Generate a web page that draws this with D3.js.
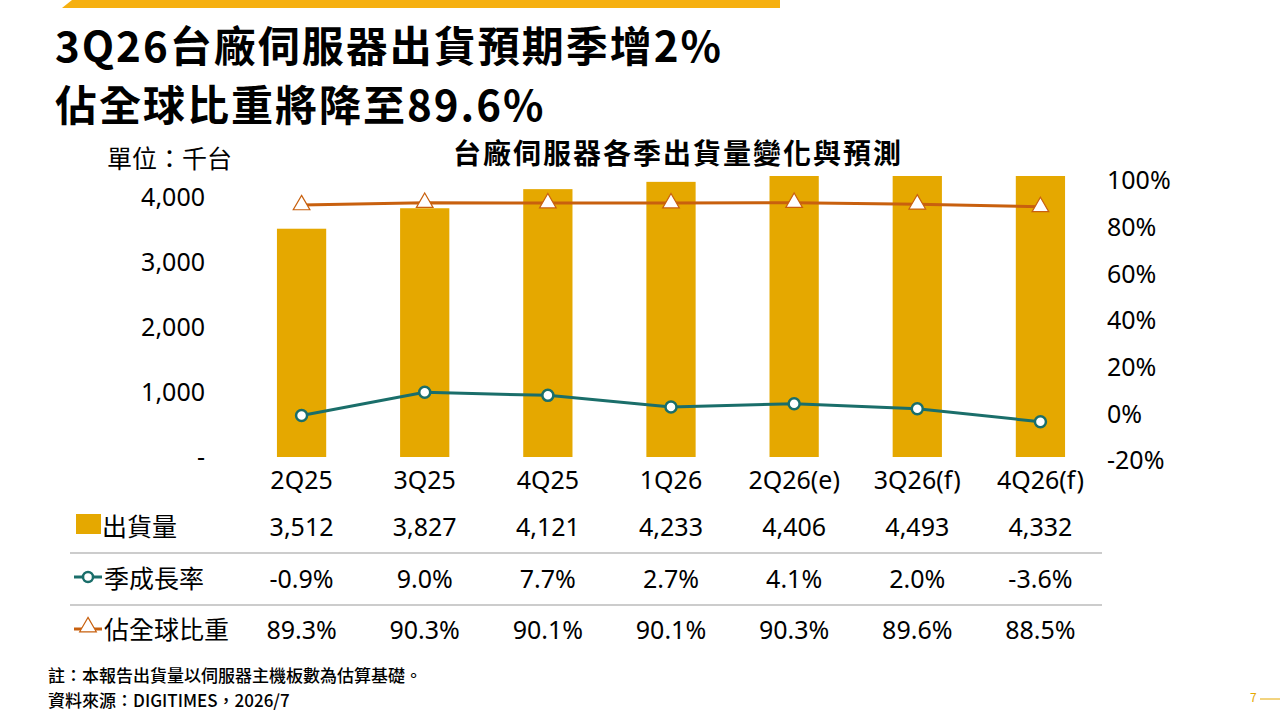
<!DOCTYPE html>
<html><head><meta charset="utf-8">
<script src="https://cdn.jsdelivr.net/npm/d3@7"></script>
<style>body{margin:0;background:#fff}text{font-family:"Noto Sans CJK TC","Noto Sans",sans-serif}</style>
</head><body><svg id="c" width="1280" height="720"></svg>
<script>
const categories=["2Q25","3Q25","4Q25","1Q26","2Q26(e)","3Q26(f)","4Q26(f)"];
const shipments=[3512,3827,4121,4233,4406,4493,4332];
const growth=[-0.9,9.0,7.7,2.7,4.1,2.0,-3.6];
const share=[89.3,90.3,90.1,90.1,90.3,89.6,88.5];
const leftTicks=[0,1000,2000,3000,4000];
const rightTicks=[-20,0,20,40,60,80,100];
const gold="#E5A800",teal="#1A6E6A",orange="#C8600E";
const svg=d3.select("#c");
svg.append("path").attr("d","M72,0L780,0L780,8L62,8Z").attr("fill","#F6B010");
svg.append("text").attr("x",55).attr("y",62).attr("font-size",42).attr("letter-spacing",2).attr("font-weight","bold").text("3Q26台廠伺服器出貨預期季增2%");
svg.append("text").attr("x",55).attr("y",121).attr("font-size",42).attr("letter-spacing",2).attr("font-weight","bold").text("佔全球比重將降至89.6%");
svg.append("text").attr("x",107).attr("y",168).attr("font-size",25).text("單位：千台");
svg.append("text").attr("x",678).attr("y",164).attr("font-size",28).attr("letter-spacing",2).attr("font-weight","bold").attr("text-anchor","middle").text("台廠伺服器各季出貨量變化與預測");
const x=d3.scaleBand().domain(categories).range([240,1102]).paddingInner(0.6).paddingOuter(0.3);
const yL=d3.scaleLinear().domain([0,4000]).range([457,197]);
const yR=d3.scaleLinear().domain([-20,100]).range([460,180]);
const plotTop=176;
svg.selectAll(".bar").data(shipments).join("rect").attr("x",(d,i)=>x(categories[i])).attr("width",x.bandwidth())
 .attr("y",d=>Math.max(plotTop,yL(d))).attr("height",d=>yL(0)-Math.max(plotTop,yL(d))).attr("fill",gold);
const la=svg.append("g").attr("transform","translate(208,0)").call(d3.axisLeft(yL).tickValues(leftTicks).tickSize(0).tickFormat(d=>d===0?"-":d3.format(",")(d)));
la.select(".domain").remove();la.selectAll("text").attr("font-size",25).attr("fill","#000").attr("dy","0.35em").style("font-family","Noto Sans");
const ra=svg.append("g").attr("transform","translate(1104,0)").call(d3.axisRight(yR).tickValues(rightTicks).tickSize(0).tickFormat(d=>d+"%"));
ra.select(".domain").remove();ra.selectAll("text").attr("font-size",25).attr("fill","#000").attr("dy","0.35em").style("font-family","Noto Sans");
const cx=i=>x(categories[i])+x.bandwidth()/2;
svg.append("path").datum(share).attr("d",d3.line().x((d,i)=>cx(i)).y(d=>yR(d))).attr("fill","none").attr("stroke",orange).attr("stroke-width",3);
const tri=d3.symbol().type(d3.symbolTriangle).size(120);
svg.selectAll(".tri").data(share).join("path").attr("d",tri).attr("transform",(d,i)=>`translate(${cx(i)},${yR(d)})`).attr("fill","#fff").attr("stroke",orange).attr("stroke-width",1.2);
svg.append("path").datum(growth).attr("d",d3.line().x((d,i)=>cx(i)).y(d=>yR(d))).attr("fill","none").attr("stroke",teal).attr("stroke-width",3);
svg.selectAll(".dot").data(growth).join("circle").attr("cx",(d,i)=>cx(i)).attr("cy",d=>yR(d)).attr("r",5.5).attr("fill","#fff").attr("stroke",teal).attr("stroke-width",2.5);
svg.selectAll(".cat").data(categories).join("text").attr("x",(d,i)=>cx(i)).attr("y",489).attr("text-anchor","middle").attr("font-size",25).style("font-family","Noto Sans").text(d=>d);
const rows=[{n:"出貨量",v:shipments.map(d3.format(",")),y:527},{n:"季成長率",v:growth.map(d=>d.toFixed(1)+"%"),y:579},{n:"佔全球比重",v:share.map(d=>d.toFixed(1)+"%"),y:630}];
rows.forEach((r,k)=>{
 svg.append("text").attr("x",k==0?102:104).attr("y",r.y+9).attr("font-size",25).text(r.n);
 svg.selectAll(".v"+k).data(r.v).join("text").attr("x",(d,i)=>cx(i)).attr("y",r.y+9).attr("text-anchor","middle").attr("font-size",25).style("font-family","Noto Sans").text(d=>d);
});
svg.append("rect").attr("x",76).attr("y",514).attr("width",25).attr("height",20).attr("fill",gold);
svg.append("line").attr("x1",74).attr("x2",102).attr("y1",577).attr("y2",577).attr("stroke",teal).attr("stroke-width",3);
svg.append("circle").attr("cx",88).attr("cy",577).attr("r",5).attr("fill","#fff").attr("stroke",teal).attr("stroke-width",2.5);
svg.append("line").attr("x1",74).attr("x2",102).attr("y1",629).attr("y2",629).attr("stroke",orange).attr("stroke-width",3);
svg.append("path").attr("d",tri).attr("transform","translate(88,627)").attr("fill","#fff").attr("stroke",orange).attr("stroke-width",1.2);
[553,605].forEach(y=>svg.append("line").attr("x1",70).attr("x2",1102).attr("y1",y).attr("y2",y).attr("stroke","#999"));
svg.append("text").attr("x",48).attr("y",682).attr("font-size",17).attr("font-weight",500).text("註：本報告出貨量以伺服器主機板數為估算基礎。");
svg.append("text").attr("x",48).attr("y",707).attr("font-size",17).attr("font-weight",500).text("資料來源：DIGITIMES，2026/7");
svg.append("text").attr("x",1250).attr("y",702).attr("font-size",12).attr("fill",gold).text("7");
svg.append("line").attr("x1",1260).attr("x2",1280).attr("y1",699).attr("y2",699).attr("stroke",gold);
</script></body></html>
